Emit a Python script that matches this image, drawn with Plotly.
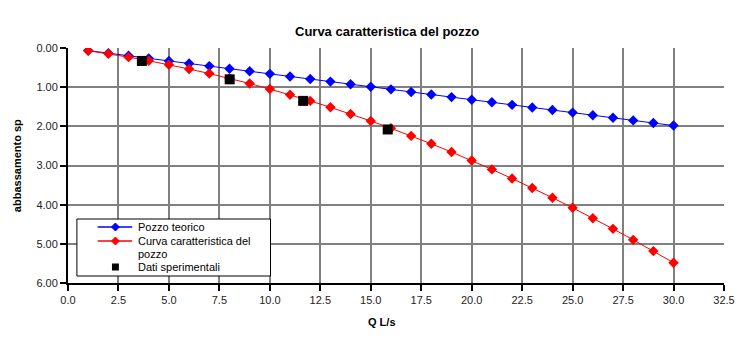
import plotly.graph_objects as go

Q = list(range(1, 31))
pozzo_teorico = [0.066, 0.132, 0.198, 0.264, 0.33, 0.396, 0.462, 0.528, 0.594, 0.66,
                 0.726, 0.792, 0.858, 0.924, 0.99, 1.056, 1.122, 1.188, 1.254, 1.32,
                 1.386, 1.452, 1.518, 1.584, 1.65, 1.716, 1.782, 1.848, 1.914, 1.98]
curva_caratteristica = [0.070, 0.148, 0.233, 0.326, 0.427, 0.536, 0.652, 0.776, 0.908, 1.048,
                        1.195, 1.351, 1.514, 1.685, 1.863, 2.050, 2.244, 2.446, 2.656, 2.874,
                        3.099, 3.333, 3.574, 3.823, 4.080, 4.345, 4.617, 4.898, 5.186, 5.482]
Q_sper = [3.66, 8.01, 11.65, 15.84]
s_sper = [0.33, 0.80, 1.35, 2.08]

x_ticks = [i * 2.5 for i in range(14)]
x_ticklabels = [f"{v:.1f}" for v in x_ticks]
y_ticks = [0, 1, 2, 3, 4, 5, 6]
y_ticklabels = [f"{v:.2f}" for v in y_ticks]

FONT = "Liberation Sans, Arial, sans-serif"
W, H = 747, 338
L, R, T, B = 68, 15, 48, 55
PW, PH = W - L - R, H - T - B


def px(xp):
    return (xp - L) / PW


def py(yp):
    return (H - B - yp) / PH


fig = go.Figure()
fig.add_trace(go.Scatter(
    x=Q, y=pozzo_teorico, mode="lines+markers", name="Pozzo teorico",
    line=dict(color="#0000ff", width=1),
    marker=dict(symbol="diamond", size=8, color="#0000ff"),
))
fig.add_trace(go.Scatter(
    x=Q, y=curva_caratteristica, mode="lines+markers", name="Curva caratteristica del pozzo",
    line=dict(color="#ff0000", width=1),
    marker=dict(symbol="diamond", size=8, color="#ff0000"),
))
fig.add_trace(go.Scatter(
    x=Q_sper, y=s_sper, mode="markers", name="Dati sperimentali",
    marker=dict(symbol="square", size=10, color="#000000"),
))

fig.update_layout(
    width=W, height=H,
    margin=dict(l=L, r=R, t=T, b=B),
    paper_bgcolor="white", plot_bgcolor="white",
    font=dict(family=FONT, size=11, color="#000000"),
    showlegend=False,
)
fig.update_xaxes(
    range=[0, 32.5], tickmode="array", tickvals=x_ticks, ticktext=x_ticklabels,
    showgrid=True, gridcolor="#808080", gridwidth=1.5,
    showline=True, linecolor="#000000", linewidth=1.5,
    ticks="outside", ticklen=6, tickcolor="#000000", tickwidth=1.5,
    zeroline=False, tickfont=dict(size=11, color="#222222"),
)
fig.update_yaxes(
    range=[6, 0], tickmode="array", tickvals=y_ticks, ticktext=y_ticklabels,
    showgrid=True, gridcolor="#808080", gridwidth=1.5,
    showline=True, linecolor="#000000", linewidth=2,
    ticks="outside", ticklen=6, tickcolor="#000000", tickwidth=1.5,
    zeroline=False, tickfont=dict(size=11, color="#222222"),
)
fig.add_annotation(
    text="<b>Curva caratteristica del pozzo</b>", xref="paper", yref="paper",
    x=px(391), y=py(31), xanchor="center", yanchor="middle",
    showarrow=False, font=dict(family=FONT, size=13, color="#000000"),
)
fig.add_annotation(
    text="<b>Q L/s</b>", xref="paper", yref="paper",
    x=px(386), y=py(322), xanchor="center", yanchor="middle",
    showarrow=False, font=dict(family=FONT, size=11, color="#000000"),
)
fig.add_annotation(
    text="<b>abbassamento sp</b>", xref="paper", yref="paper",
    x=px(16), y=0.5, xanchor="center", yanchor="middle", textangle=-90,
    showarrow=False, font=dict(family=FONT, size=11, color="#000000"),
)

# Custom legend (compact, like the reference)
shapes = [dict(type="rect", xref="paper", yref="paper",
               x0=px(77), x1=px(273), y0=py(276), y1=py(219),
               line=dict(color="#000000", width=1), fillcolor="white", layer="above")]


def diamond(cx, cy, r, color):
    path = (f"M {px(cx)},{py(cy - r)} L {px(cx + r)},{py(cy)} "
            f"L {px(cx)},{py(cy + r)} L {px(cx - r)},{py(cy)} Z")
    return dict(type="path", xref="paper", yref="paper", path=path,
                fillcolor=color, line=dict(color=color, width=1), layer="above")


legend_rows = [
    (["Pozzo teorico"], "#0000ff", 227, "diamond"),
    (["Curva caratteristica del", "pozzo"], "#ff0000", 241, "diamond"),
    (["Dati sperimentali"], "#000000", 267, "square"),
]
for lines, color, yrow, kind in legend_rows:
    if kind == "diamond":
        shapes.append(dict(type="line", xref="paper", yref="paper",
                           x0=px(98), x1=px(133), y0=py(yrow), y1=py(yrow),
                           line=dict(color=color, width=1.5), layer="above"))
        shapes.append(diamond(116, yrow, 4, color))
    else:
        shapes.append(dict(type="rect", xref="paper", yref="paper",
                           x0=px(112.5), x1=px(119.5), y0=py(yrow + 3.5), y1=py(yrow - 3.5),
                           fillcolor=color, line=dict(color=color, width=0), layer="above"))
    for k, label in enumerate(lines):
        fig.add_annotation(
            text=label, xref="paper", yref="paper", x=px(137), y=py(yrow + 12.5 * k),
            xanchor="left", yanchor="middle", align="left", showarrow=False,
            font=dict(family=FONT, size=11, color="#000000"),
        )
fig.update_layout(shapes=shapes)

fig.write_html("out.html")
